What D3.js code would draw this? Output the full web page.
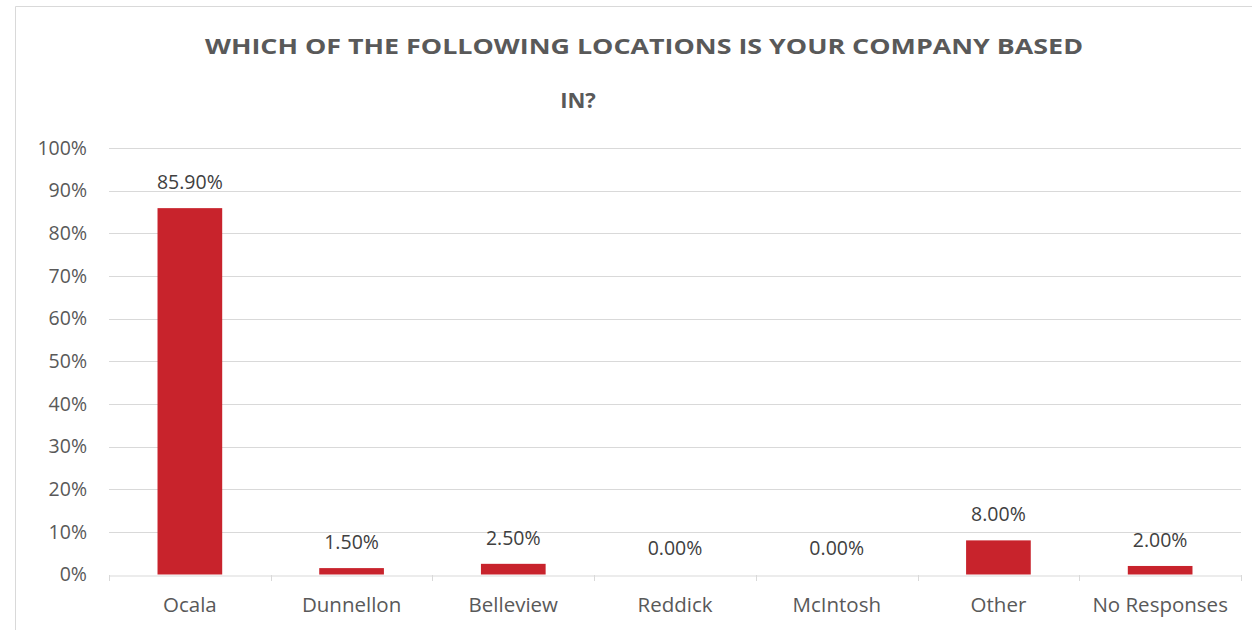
<!DOCTYPE html>
<html><head><meta charset="utf-8">
<script src="https://cdn.jsdelivr.net/npm/d3@7"></script>
<style>body{margin:0;background:#fff}svg{display:block}text{font-family:"Open Sans",sans-serif}</style>
</head><body><svg id="c" width="1252" height="630"></svg>
<script>
const categories = ["Ocala","Dunnellon","Belleview","Reddick","McIntosh","Other","No Responses"];
const values = [85.9, 1.5, 2.5, 0, 0, 8.0, 2.0];
const yTicks = [0,10,20,30,40,50,60,70,80,90,100];
const titleLines = ["WHICH OF THE FOLLOWING LOCATIONS IS YOUR COMPANY BASED","IN?"];

const svg = d3.select("#c");
// chart border
svg.append("path").attr("d","M15.5,630 V6.5 H1252").attr("fill","none").attr("stroke","#d9d9d9");

const x = d3.scaleBand().domain(categories).range([109,1241]).paddingInner(0.6).paddingOuter(0.3);
const xb = d3.scaleBand().domain(categories).range([109,1241]);
const y = d3.scaleLinear().domain([0,100]).range([574.5,148]);

// gridlines
svg.append("g").selectAll("line").data(yTicks.filter(d=>d>0)).join("line")
  .attr("x1",109).attr("x2",1241).attr("y1",d=>Math.round(y(d))+0.5).attr("y2",d=>Math.round(y(d))+0.5)
  .attr("stroke","#d9d9d9").attr("stroke-width",1);

// y axis labels
const ya = svg.append("g").attr("transform","translate(87,0)")
  .call(d3.axisLeft(y).tickValues(yTicks).tickFormat(d=>d+"%").tickSize(0).tickPadding(0));
ya.select(".domain").remove();
ya.selectAll("text").attr("font-size",19.5).attr("fill","#595959").attr("font-family","'Open Sans',sans-serif");

// bars
svg.append("g").selectAll("rect").data(values).join("rect")
  .attr("x",(d,i)=>x(categories[i])).attr("width",x.bandwidth())
  .attr("y",d=>y(d)).attr("height",d=>y(0)-y(d)).attr("fill","#c8232c");

// x axis
const xa = svg.append("g").attr("transform",`translate(0,${Math.round(y(0))+0.5})`)
  .call(d3.axisBottom(xb).tickSize(0).tickPadding(0));
xa.select(".domain").attr("stroke","#d9d9d9");
xa.selectAll("text").attr("y",29).attr("dy","0.35em").attr("font-size",20.5).attr("fill","#595959").attr("font-family","'Open Sans',sans-serif");
svg.append("g").selectAll("line").data(d3.range(categories.length+1)).join("line")
  .attr("x1",i=>Math.round(109+i*xb.step())+0.5).attr("x2",i=>Math.round(109+i*xb.step())+0.5)
  .attr("y1",575).attr("y2",581).attr("stroke","#d9d9d9");

// value labels
svg.append("g").selectAll("text").data(values).join("text")
  .attr("x",(d,i)=>xb(categories[i])+xb.bandwidth()/2).attr("y",d=>y(d)-26)
  .attr("dy","0.35em").attr("text-anchor","middle").attr("font-size",19.5).attr("fill","#404040")
  .text(d=>d.toFixed(2)+"%");

// title
svg.append("text").attr("x",644).attr("y",46).attr("dy","0.35em").attr("text-anchor","middle")
  .attr("font-size",22).attr("font-weight","bold").attr("fill","#595959")
  .attr("textLength",878).attr("lengthAdjust","spacingAndGlyphs").text(titleLines[0]);
svg.append("text").attr("x",578).attr("y",100).attr("dy","0.35em").attr("text-anchor","middle")
  .attr("font-size",22).attr("font-weight","bold").attr("fill","#595959").text(titleLines[1]);
</script></body></html>
